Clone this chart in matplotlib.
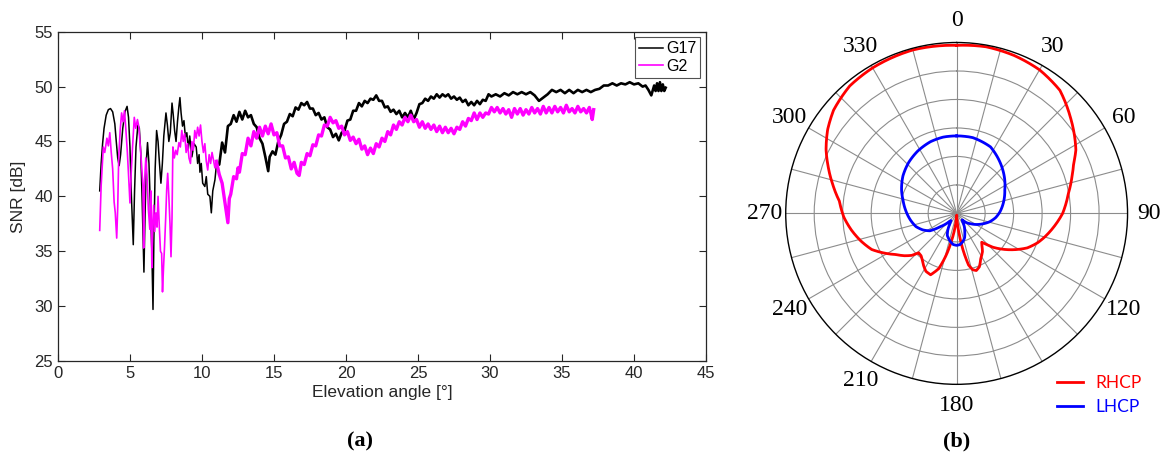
import numpy as np
import matplotlib
matplotlib.use("Agg")
import matplotlib.pyplot as plt

# ---- panel (a): SNR vs elevation ----
g17_elev = [2.90, 3.00, 3.10, 3.20, 3.35, 3.50, 3.65, 3.80, 3.95, 4.05, 4.15, 4.25, 4.35, 4.50,
            4.65, 4.80, 4.90, 5.00, 5.10, 5.23, 5.32, 5.42, 5.55, 5.65, 5.75, 5.85, 5.97, 6.05,
            6.15, 6.22, 6.32, 6.42, 6.52, 6.60, 6.66, 6.75, 6.85, 6.95, 7.05, 7.15, 7.25, 7.35,
            7.50, 7.60, 7.70, 7.80, 7.92, 8.00, 8.10, 8.20, 8.30, 8.40, 8.47, 8.55, 8.65, 8.75,
            8.85, 8.95, 9.05, 9.15, 9.30, 9.45, 9.60, 9.70, 9.80, 9.86, 9.95, 10.05, 10.20, 10.30,
            10.40, 10.55, 10.65, 10.75, 10.90,
            11.0, 11.2, 11.4, 11.6, 11.8, 12.0, 12.2, 12.4, 12.6, 12.8, 13.0, 13.2, 13.4, 13.6,
            13.8, 14.0, 14.2, 14.4, 14.6, 14.7, 14.9, 15.1, 15.3, 15.5, 15.7, 15.9, 16.1, 16.3,
            16.5, 16.7, 16.9, 17.1, 17.3, 17.5, 17.7, 17.9, 18.1, 18.3, 18.5, 18.7, 18.9, 19.1,
            19.3, 19.5, 19.7, 19.9, 20.1, 20.3, 20.5, 20.7, 20.9, 21.1, 21.3, 21.5, 21.7, 21.9,
            22.1, 22.3, 22.5, 22.7, 22.9, 23.1, 23.3, 23.5, 23.7, 23.9, 24.1, 24.3, 24.5, 24.7,
            24.9, 25.1, 25.3, 25.5, 25.7, 25.9, 26.1, 26.3, 26.5, 26.7, 26.9, 27.1, 27.3, 27.5,
            27.7, 27.9, 28.1, 28.3, 28.5, 28.7, 28.9, 29.1, 29.3, 29.5, 29.7, 29.9, 30.1, 30.4,
            30.7, 31.0, 31.3, 31.6, 31.9, 32.2, 32.5, 32.8, 33.1, 33.4, 33.7, 34.0, 34.3, 34.6,
            34.9, 35.2, 35.5, 35.8, 36.1, 36.4, 36.7, 37.0, 37.3, 37.6, 37.9, 38.2, 38.5, 38.8,
            39.1, 39.4, 39.7, 40.0, 40.3, 40.6, 40.8, 41.0, 41.2, 41.4, 41.5, 41.6, 41.7, 41.8,
            41.9, 42.0, 42.1, 42.2]
g17_snr = [40.5, 43.0, 44.8, 46.2, 47.4, 47.9, 48.0, 47.7, 46.6, 45.0, 43.5, 42.8, 43.8, 46.2,
           47.7, 48.2, 47.2, 44.5, 40.0, 35.6, 40.5, 44.5, 46.5, 46.2, 44.0, 39.5, 33.1, 38.5,
           43.5, 44.9, 43.0, 39.0, 35.0, 29.7, 36.0, 42.5, 46.0, 45.0, 43.0, 41.2, 43.0, 45.5,
           47.6, 46.5, 45.0, 45.8, 48.5, 47.5, 46.0, 45.0, 46.8, 48.2, 49.0, 47.6, 46.4, 46.9,
           45.4, 45.8, 44.3, 45.5, 43.6, 44.8, 44.5, 43.0, 43.8, 42.2, 43.0, 41.2, 40.9, 41.8,
           40.2, 40.0, 38.5, 40.5, 41.5,
           42.8, 42.9, 44.9, 44.0, 46.4, 46.6, 47.4, 46.8, 47.7, 47.0, 47.8, 47.2, 47.4, 46.6,
           46.3, 45.3, 44.8, 43.6, 42.3, 43.6, 44.1, 43.8, 45.0, 45.6, 46.6, 46.8, 47.5, 47.3,
           48.1, 47.9, 48.5, 48.3, 48.6, 48.0, 48.0, 47.4, 47.6, 47.0, 47.2, 46.3, 46.1, 45.4,
           45.7, 45.1, 45.8, 46.0, 46.9, 47.0, 47.8, 47.8, 48.5, 48.2, 48.7, 48.5, 48.9, 48.8,
           49.2, 48.7, 48.7, 48.1, 48.2, 47.7, 47.9, 47.5, 47.8, 47.2, 47.6, 47.2, 47.8, 47.0,
           47.6, 48.4, 48.5, 48.9, 48.7, 49.1, 48.9, 49.3, 49.0, 49.3, 49.1, 49.3, 48.9, 49.1,
           48.8, 49.0, 48.6, 48.8, 48.3, 48.6, 48.3, 48.7, 48.4, 48.8, 48.7, 49.3, 49.1, 49.3,
           49.1, 49.4, 49.2, 49.5, 49.3, 49.5, 49.3, 49.5, 49.2, 48.7, 49.0, 49.3, 49.7, 49.5,
           49.7, 49.4, 49.7, 49.4, 49.7, 49.5, 49.7, 49.5, 49.7, 49.8, 50.1, 50.1, 50.3, 50.1,
           50.3, 50.2, 50.4, 50.2, 50.3, 50.0, 50.1, 49.7, 49.2, 50.1, 49.6, 50.3, 49.6, 50.4,
           49.6, 50.2, 49.6, 49.9]

g2_elev = [2.90, 3.00, 3.15, 3.25, 3.40, 3.50, 3.60, 3.70, 3.80, 3.90, 3.98, 4.08, 4.15, 4.22,
           4.32, 4.42, 4.52, 4.62, 4.72, 4.82, 4.92, 5.00, 5.08, 5.18, 5.30, 5.40, 5.52, 5.62,
           5.72, 5.80, 5.90, 5.95, 6.02, 6.10, 6.18, 6.28, 6.38, 6.45, 6.52, 6.58, 6.65, 6.72,
           6.80, 6.88, 6.95, 7.05, 7.12, 7.20, 7.26, 7.33, 7.40, 7.48, 7.55, 7.62, 7.70, 7.78,
           7.85, 7.92, 7.98, 8.08, 8.18, 8.28, 8.40, 8.50, 8.60, 8.70, 8.80, 8.90, 9.00, 9.10,
           9.20, 9.30, 9.40, 9.50, 9.60, 9.70, 9.80, 9.90, 10.00, 10.10, 10.20, 10.30, 10.40,
           10.50, 10.60, 10.70, 10.80, 10.90,
           11.0, 11.2, 11.4, 11.6, 11.8, 11.9, 12.0, 12.2, 12.4, 12.5, 12.6, 12.8, 13.0, 13.2,
           13.4, 13.6, 13.8, 14.0, 14.2, 14.4, 14.6, 14.8, 15.0, 15.2, 15.4, 15.6, 15.8, 16.0,
           16.2, 16.4, 16.6, 16.75, 16.9, 17.1, 17.3, 17.5, 17.7, 17.9, 18.1, 18.3, 18.5, 18.7,
           18.9, 19.1, 19.3, 19.5, 19.7, 19.9, 20.1, 20.3, 20.5, 20.7, 20.9, 21.1, 21.3, 21.5,
           21.7, 21.9, 22.1, 22.3, 22.5, 22.7, 22.9, 23.1, 23.3, 23.5, 23.7, 23.9, 24.1, 24.3,
           24.5, 24.7, 24.9, 25.1, 25.3, 25.5, 25.7, 25.9, 26.1, 26.3, 26.5, 26.7, 26.9, 27.1,
           27.3, 27.5, 27.7, 27.9, 28.1, 28.3, 28.5, 28.7, 28.9, 29.1, 29.3, 29.5, 29.7, 29.9,
           30.1, 30.3, 30.5, 30.7, 30.9, 31.1, 31.3, 31.5, 31.7, 31.9, 32.1, 32.3, 32.5, 32.7,
           32.9, 33.1, 33.3, 33.5, 33.7, 33.9, 34.1, 34.3, 34.5, 34.7, 34.9, 35.1, 35.3, 35.5,
           35.7, 35.9, 36.1, 36.3, 36.5, 36.7, 36.9, 37.0, 37.1, 37.2]
g2_snr = [36.9, 41.0, 44.5, 44.0, 45.3, 44.6, 45.8, 44.0, 42.5, 39.5, 38.5, 36.2, 39.0, 43.6,
          46.0, 47.6, 46.8, 47.8, 46.0, 44.0, 41.5, 39.4, 42.0, 44.5, 47.2, 46.2, 47.0, 46.3,
          44.5, 43.0, 41.0, 35.3, 41.5, 43.5, 42.0, 38.8, 37.0, 40.5, 33.5, 37.5, 39.2, 36.8,
          38.5, 37.2, 40.0, 36.9, 35.0, 34.8, 31.3, 33.5, 35.4, 38.0, 40.6, 42.1, 40.0, 37.5,
          34.5, 38.0, 44.5, 43.5, 44.2, 43.8, 44.9, 44.5, 46.0, 45.0, 45.7, 44.0, 44.8, 43.5,
          43.0, 45.0, 44.2, 46.0, 45.3, 46.3, 45.5, 46.5, 45.0, 44.0, 44.8, 43.2, 42.4,
          43.8, 43.0, 44.0, 43.3, 42.6,
          43.2, 42.0, 41.2, 39.4, 37.6, 39.8, 40.2, 41.8, 41.6, 42.6, 42.2, 43.9, 43.8, 45.3,
          44.6, 45.9, 45.3, 46.3, 45.5, 46.4, 45.7, 46.6, 45.6, 45.8, 44.6, 44.6, 43.5, 43.6,
          42.5, 43.1, 42.1, 41.9, 43.1, 42.9, 43.9, 43.7, 44.7, 44.6, 45.6, 45.5, 46.5, 46.4,
          47.2, 46.7, 46.9, 46.2, 46.4, 45.6, 45.9, 45.1, 45.4, 44.8, 45.2, 44.3, 44.6, 43.8,
          44.4, 43.9, 44.8, 44.5, 45.3, 45.0, 45.9, 45.6, 46.5, 46.1, 46.8, 46.5, 47.2, 46.8,
          47.4, 46.8, 47.0, 46.3, 46.8, 46.2, 46.6, 46.1, 46.5, 45.9, 46.4, 45.8, 46.3, 45.8,
          46.2, 45.7, 46.3, 46.1, 46.8, 46.4, 47.1, 46.9, 47.6, 47.0, 47.6, 47.2, 47.6, 47.5,
          48.1, 47.7, 48.1, 47.6, 48.0, 47.5, 47.9, 47.2, 48.0, 47.5, 48.0, 47.4, 47.9, 47.5,
          48.1, 47.6, 48.0, 47.5, 48.2, 47.6, 48.1, 47.6, 48.2, 47.7, 48.1, 47.6, 48.3, 47.7,
          48.0, 47.6, 48.2, 47.7, 48.0, 47.6, 48.1, 47.6, 47.0, 47.9]

# ---- panel (b): antenna pattern, dB ----
rhcp_ang = [0, 10, 20, 30, 40, 50, 56, 62, 67, 72, 80, 90, 98, 105, 110, 116, 122, 128, 133,
            137, 139, 141, 146, 152, 157, 161, 164, 167, 170, 173, 176, 179, 182, 186, 190,
            194, 198, 203, 208, 212, 216, 220, 224, 227, 231, 236, 241, 247, 254, 261, 268,
            276, 283, 290, 296, 303, 310, 320, 330, 345, 360]
rhcp_db = [-0.5, -0.3, -0.5, -0.9, -1.8, -3.9, -5.1, -6.3, -7.7, -8.7, -10.1, -11.4, -12.8,
           -14.0, -14.9, -16.2, -18.0, -19.8, -21.3, -22.8, -23.3, -23.0, -21.9, -21.0, -19.8,
           -19.4, -19.7, -20.7, -23.4, -26.4, -28.5, -29.7, -29.4, -27.9, -25.5, -22.5, -19.8,
           -18.3, -18.5, -19.1, -19.8, -20.3, -20.4, -19.2, -18.2, -17.1, -15.6, -13.8, -12.5,
           -11.3, -10.2, -9.3, -7.7, -6.0, -4.5, -3.0, -1.8, -0.8, -0.5, -0.3, -0.5]

lhcp_ang = [0, 12, 27, 44, 55, 64, 76, 88, 96, 104, 112, 119, 126, 133, 139, 144, 150, 156,
            162, 168, 174, 180, 186, 192, 198, 203, 208, 213, 218, 222, 226, 231, 237, 244,
            252, 262, 274, 284, 293, 305, 317, 328, 340, 350, 360]
lhcp_db = [-16.4, -16.4, -16.9, -18.6, -19.7, -20.6, -21.5, -22.4, -23.1, -24.0, -25.1, -26.0,
           -26.9, -27.6, -28.5, -28.2, -27.3, -26.5, -25.5, -24.9, -24.5, -24.4, -24.5, -24.9,
           -25.4, -25.8, -26.7, -27.8, -28.4, -28.1, -27.3, -26.3, -24.4, -23.4, -22.5, -21.8,
           -21.0, -20.3, -19.5, -18.5, -17.7, -17.1, -16.6, -16.4, -16.4]

dark = '#262626'
fig = plt.figure(figsize=(11.66, 4.57), dpi=100)

# left panel
ax = fig.add_axes([0.0497, 0.21, 0.5558, 0.7206])
# oscillating low-elevation part drawn thin, the dense noisy tail a bit heavier
k17 = g17_elev.index(11.0)
k2 = g2_elev.index(11.0)
l17, = ax.plot(g17_elev[:k17 + 1], g17_snr[:k17 + 1], color='black', lw=1.1, label='G17')
ax.plot(g17_elev[k17:], g17_snr[k17:], color='black', lw=1.9)
l2, = ax.plot(g2_elev[:k2 + 1], g2_snr[:k2 + 1], color='#ff00ff', lw=1.2, label='G2')
ax.plot(g2_elev[k2:], g2_snr[k2:], color='#ff00ff', lw=2.4)
ax.set_xlim(0, 45)
ax.set_ylim(25, 55)
ax.set_xticks(range(0, 46, 5))
ax.set_yticks(range(25, 56, 5))
ax.tick_params(direction='in', top=True, right=True, length=5, colors=dark,
               labelsize=12, labelcolor=dark)
for s in ax.spines.values():
    s.set_color(dark)
    s.set_linewidth(0.9)
for lab in ax.get_xticklabels() + ax.get_yticklabels():
    lab.set_family('Liberation Sans')
ax.set_xlabel('Elevation angle [°]', fontsize=12.5, family='Liberation Sans', color=dark, labelpad=3)
ax.set_ylabel('SNR [dB]', fontsize=12.5, family='Liberation Sans', color=dark, labelpad=6)
leg = ax.legend(handles=[l17, l2], loc='upper right', handlelength=1.5, handletextpad=0.2,
                borderaxespad=0.35, borderpad=0.25, labelspacing=0.15, fancybox=False,
                prop={'family': 'Liberation Sans', 'size': 11.5})
leg.get_frame().set_edgecolor(dark)
leg.get_frame().set_linewidth(0.8)

# right panel (polar)
pax = fig.add_axes([0.6738, 0.159, 0.2933, 0.748], projection='polar')
pax.set_theta_zero_location('N')
pax.set_theta_direction(-1)
pax.plot(np.radians(rhcp_ang), rhcp_db, color='#ff0000', lw=2.0, label='RHCP')
pax.plot(np.radians(lhcp_ang), lhcp_db, color='#0000ff', lw=2.0, label='LHCP')
for ln in pax.get_lines():
    ln.get_path()._interpolation_steps = 20
pax.set_ylim(-30, 0)
pax.set_yticks([-25, -20, -15, -10, -5])
pax.set_yticklabels([])
spokes = list(range(0, 360, 15))
pax.set_thetagrids(spokes, [str(a) if a % 30 == 0 and a != 150 else '' for a in spokes])
pax.tick_params(axis='x', pad=5, labelsize=17)
for lab in pax.get_xticklabels():
    lab.set_family('Liberation Serif')
pax.grid(True, color='#8c8c8c', lw=0.8)
pax.spines['polar'].set_color('black')
pax.spines['polar'].set_linewidth(1.0)

fig.legend(handles=pax.get_lines(), loc='upper left', bbox_to_anchor=(0.896, 0.205),
           frameon=False, labelcolor='linecolor', handlelength=1.5, handletextpad=0.7,
           labelspacing=0.45, borderpad=0.2, prop={'family': 'Lato', 'size': 12.5})

fig.text(0.309, 0.035, '(a)', ha='center', va='center', fontsize=16,
         family='Liberation Serif', weight='bold')
fig.text(0.8205, 0.035, '(b)', ha='center', va='center', fontsize=16,
         family='Liberation Serif', weight='bold')

fig.savefig('out.png', dpi=100)
